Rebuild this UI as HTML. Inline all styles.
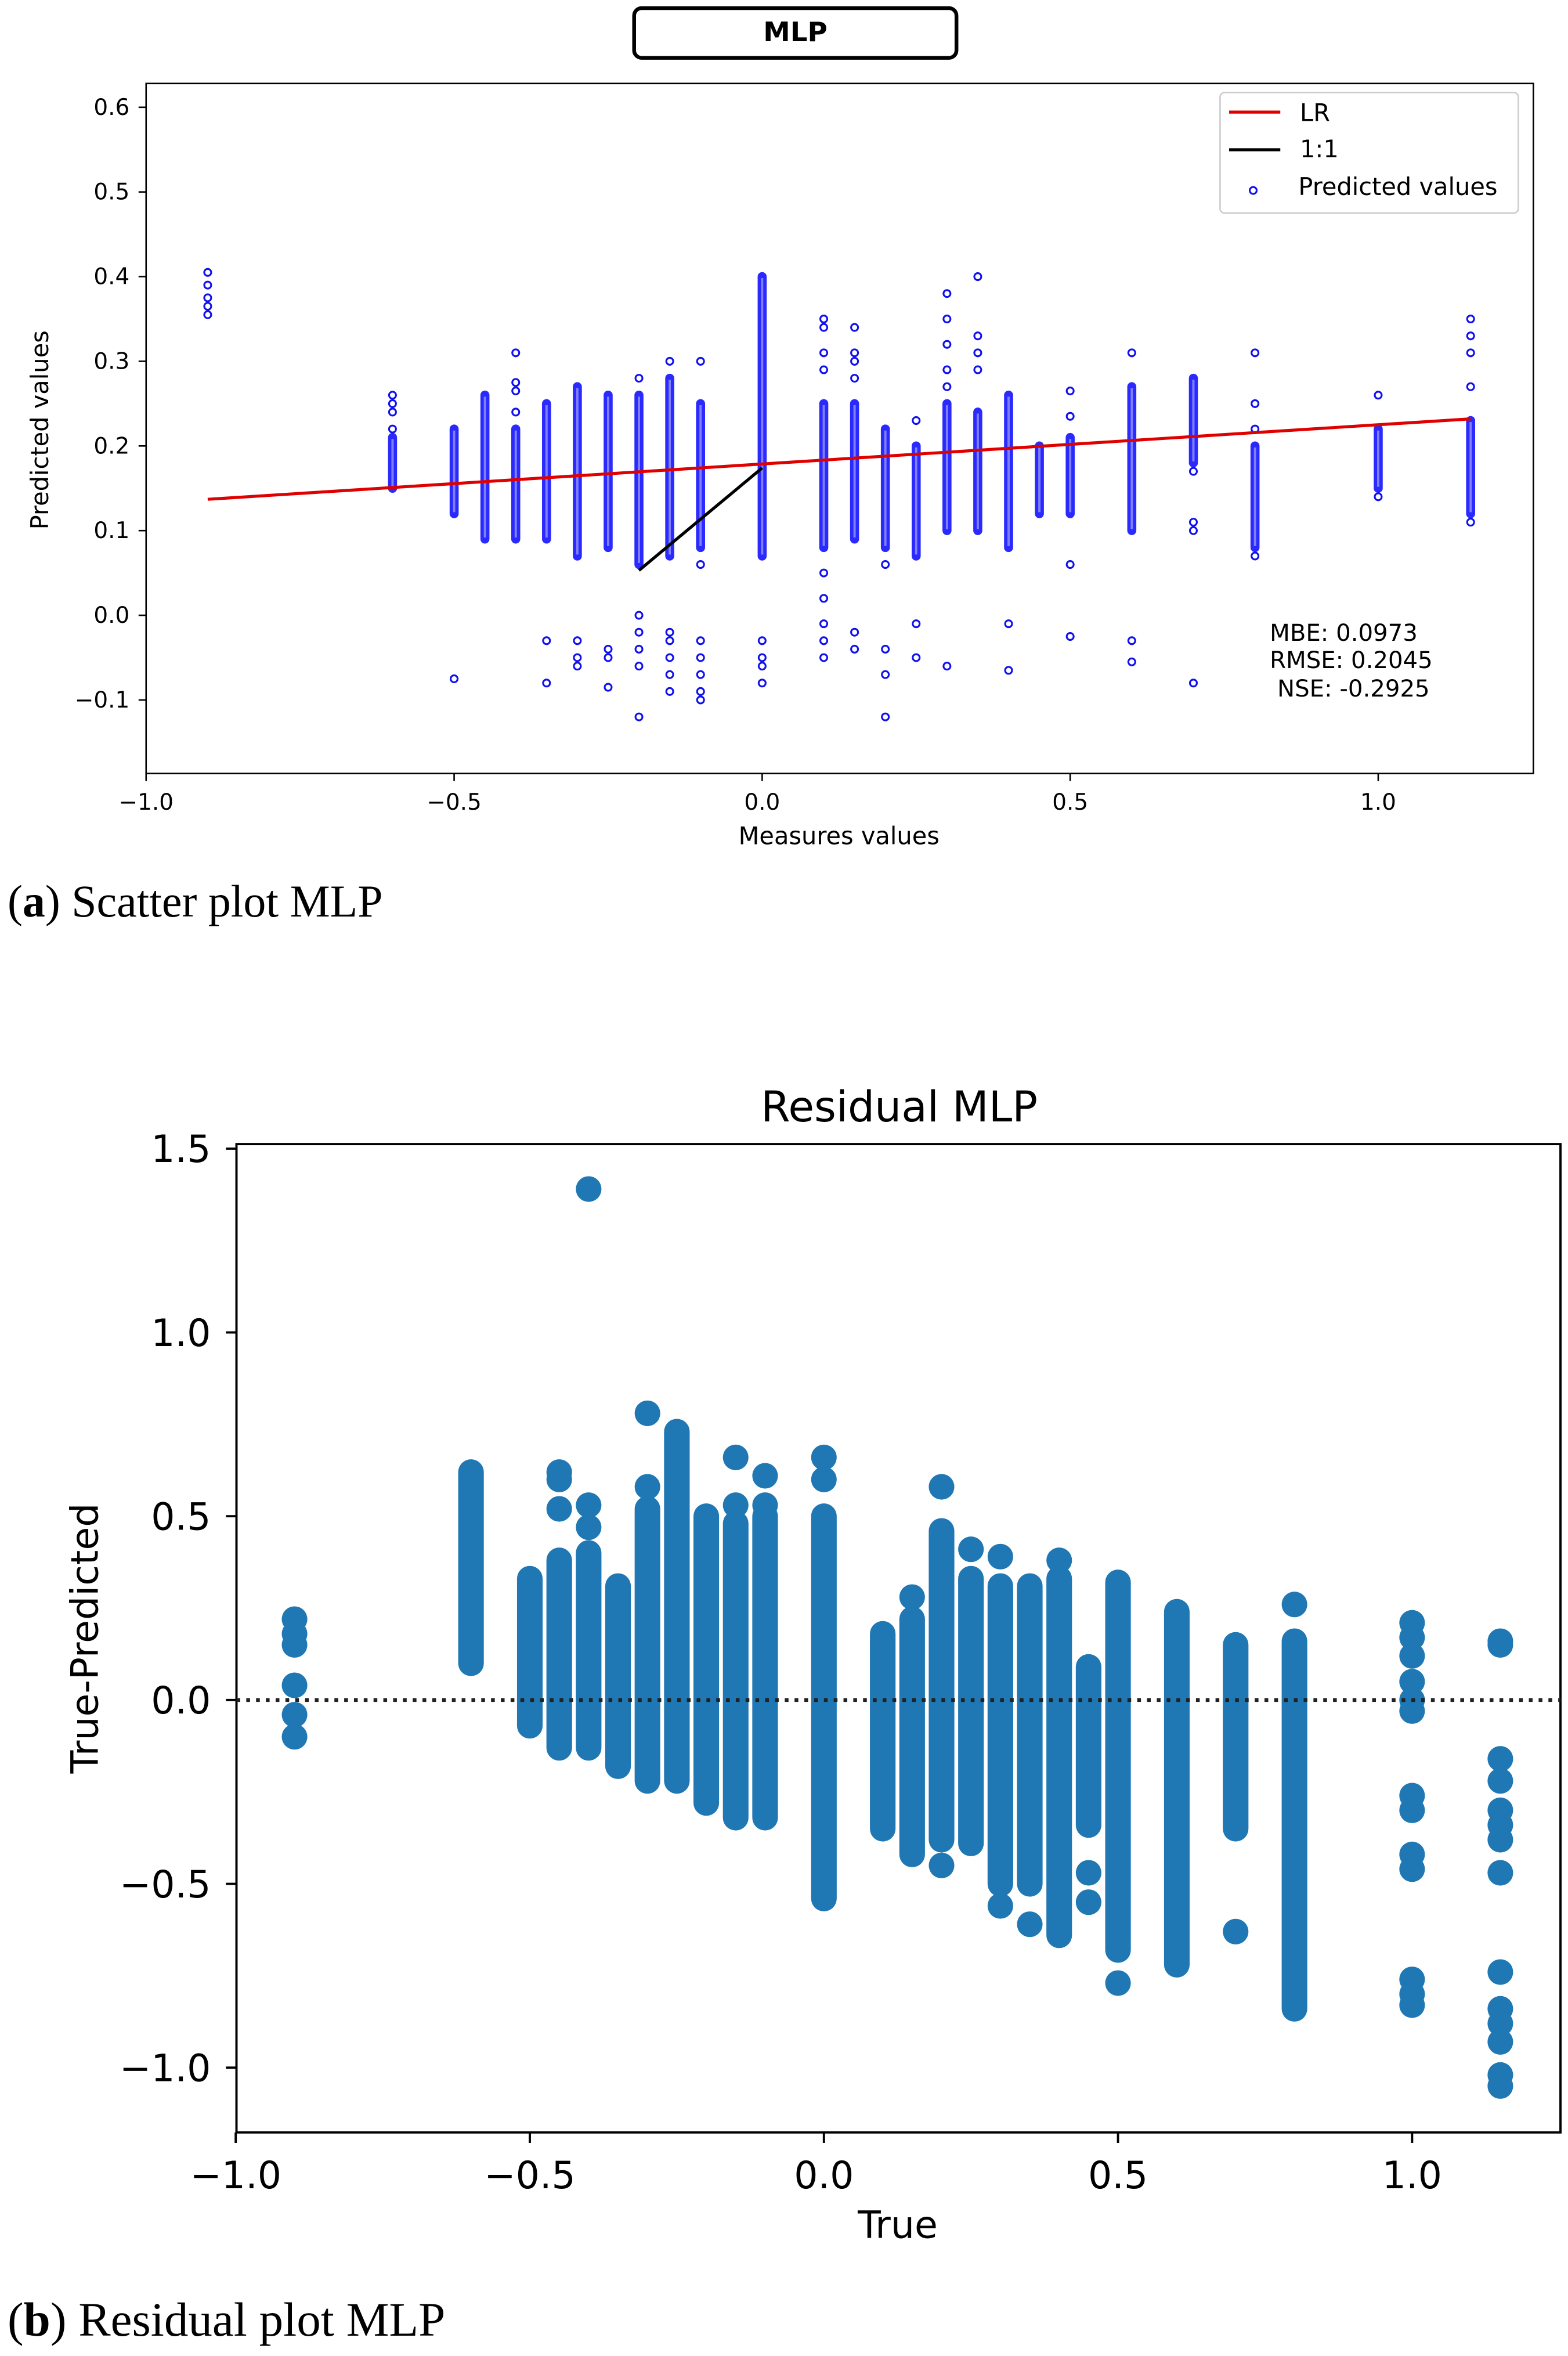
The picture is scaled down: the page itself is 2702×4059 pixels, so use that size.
<!DOCTYPE html>
<html><head><meta charset="utf-8"><style>
html,body{margin:0;padding:0;background:#fff;}
svg{display:block;}
text{font-family:"DejaVu Sans","Liberation Sans",sans-serif;}
.cap{font-family:"Liberation Serif",serif;}
</style></head><body>
<svg id="root" width="2702" height="4059" viewBox="0 0 1041 1563" xmlns="http://www.w3.org/2000/svg">
<rect width="1041" height="1563" fill="#fff"/>
<g id="top"></g>
<g id="bot"></g>
</svg>
<script>
// ---------- Scatter plot data ----------
const topCols = [-0.9,-0.6,-0.5,-0.45,-0.4,-0.35,-0.3,-0.25,-0.2,-0.15,-0.1,0.0,0.1,0.15,0.2,0.25,0.3,0.35,0.4,0.45,0.5,0.6,0.7,0.8,1.0,1.15];
const topLo = [null,0.15,0.12,0.09,0.09,0.09,0.07,0.08,0.06,0.07,0.08,0.07,0.08,0.09,0.08,0.07,0.10,0.10,0.08,0.12,0.12,0.10,0.18,0.08,0.15,0.12];
const topHi = [null,0.21,0.22,0.26,0.22,0.25,0.27,0.26,0.26,0.28,0.25,0.40,0.25,0.25,0.22,0.20,0.25,0.24,0.26,0.20,0.21,0.27,0.28,0.20,0.22,0.23];
const topPts = [
 [0.355,0.365,0.375,0.39,0.405],
 [0.22,0.24,0.25,0.26],
 [-0.075],
 [],
 [0.24,0.265,0.275,0.31],
 [-0.03,-0.08],
 [-0.03,-0.05,-0.06],
 [-0.04,-0.05,-0.085],
 [0.28,0.0,-0.02,-0.04,-0.06,-0.12],
 [0.30,-0.02,-0.03,-0.05,-0.07,-0.09],
 [0.30,0.06,-0.03,-0.05,-0.07,-0.09,-0.10],
 [-0.03,-0.05,-0.06,-0.08],
 [0.29,0.31,0.34,0.35,0.05,0.02,-0.01,-0.03,-0.05],
 [0.28,0.30,0.31,0.34,-0.02,-0.04],
 [0.06,-0.04,-0.07,-0.12],
 [0.23,-0.01,-0.05],
 [0.27,0.29,0.32,0.35,0.38,-0.06],
 [0.29,0.31,0.33,0.40],
 [-0.01,-0.065],
 [],
 [0.235,0.265,0.06,-0.025],
 [0.31,-0.03,-0.055],
 [0.17,0.11,0.10,-0.08],
 [0.22,0.25,0.31,0.07],
 [0.26,0.14],
 [0.27,0.31,0.33,0.35,0.11]
];
const lrLine = [[-0.9,0.137],[1.15,0.232]];
const oneLine = [[-0.2,0.053],[0.0,0.174]];
const topXTicks = [-1.0,-0.5,0.0,0.5,1.0];
const topXLabels = ["\u22121.0","\u22120.5","0.0","0.5","1.0"];
const topYTicks = [-0.1,0,0.1,0.2,0.3,0.4,0.5,0.6];
const topYLabels = ["\u22120.1","0.0","0.1","0.2","0.3","0.4","0.5","0.6"];

// ---------- Residual plot data ----------
const resCols = [-0.9,-0.6,-0.5,-0.45,-0.4,-0.35,-0.3,-0.25,-0.2,-0.15,-0.1,0.0,0.1,0.15,0.2,0.25,0.3,0.35,0.4,0.45,0.5,0.6,0.7,0.8,1.0,1.15];
const resLo = [null,0.10,-0.07,-0.13,-0.13,-0.18,-0.22,-0.22,-0.28,-0.32,-0.32,-0.54,-0.35,-0.42,-0.38,-0.39,-0.50,-0.50,-0.64,-0.34,-0.68,-0.72,-0.35,-0.84,null,null];
const resHi = [null,0.62,0.33,0.38,0.40,0.31,0.52,0.73,0.50,0.48,0.50,0.50,0.18,0.22,0.46,0.33,0.31,0.31,0.33,0.09,0.32,0.24,0.15,0.16,null,null];
const resPts = [
 [0.22,0.18,0.15,0.04,-0.04,-0.10],
 [],
 [],
 [0.52,0.60,0.62],
 [0.47,0.53,1.39],
 [],
 [0.58,0.78],
 [],
 [],
 [0.53,0.66],
 [0.53,0.61],
 [0.60,0.66],
 [],
 [0.28],
 [0.58,-0.45],
 [0.41],
 [0.39,-0.56],
 [-0.61],
 [0.38],
 [-0.47,-0.55],
 [-0.77],
 [],
 [-0.63],
 [0.26],
 [0.21,0.17,0.12,0.05,0.0,-0.03,-0.26,-0.30,-0.42,-0.46,-0.76,-0.80,-0.83],
 [0.16,0.15,-0.16,-0.22,-0.30,-0.34,-0.38,-0.47,-0.74,-0.84,-0.88,-0.93,-1.02,-1.05]
];
const resXTicks = [-1.0,-0.5,0.0,0.5,1.0];
const resXLabels = ["\u22121.0","\u22120.5","0.0","0.5","1.0"];
const resYTicks = [-1.0,-0.5,0.0,0.5,1.0,1.5];
const resYLabels = ["\u22121.0","\u22120.5","0.0","0.5","1.0","1.5"];

const NS="http://www.w3.org/2000/svg";
function mk(parent,tag,attrs,txt){const e=document.createElementNS(NS,tag);for(const k in attrs)e.setAttribute(k,attrs[k]);if(txt!==undefined)e.textContent=txt;parent.appendChild(e);return e;}

// ===== TOP =====
const T=document.getElementById('top');
const tx=v=>506+v*409, ty=v=>408-v*562;
let e;
e=mk(T,'rect',{x:421,y:5,width:214,height:33,rx:5,fill:'#fff',stroke:'#000','stroke-width':2.5});


e=mk(T,'text',{x:528,y:27,'text-anchor':'middle','font-size':18,'font-weight':'bold'},'MLP');


e=mk(T,'rect',{x:97,y:55,width:921,height:458,fill:'none',stroke:'#000','stroke-width':1});


topXTicks.forEach((v,i)=>{
 e=mk(T,'line',{x1:tx(v),x2:tx(v),y1:513,y2:518,stroke:'#000','stroke-width':1});
 
 
 e=mk(T,'text',{x:tx(v),y:537,'text-anchor':'middle','font-size':15},topXLabels[i]);
 
 
});
topYTicks.forEach((v,i)=>{
 e=mk(T,'line',{x1:92,x2:97,y1:ty(v),y2:ty(v),stroke:'#000','stroke-width':1});
 
 
 e=mk(T,'text',{x:86,y:ty(v)+5,'text-anchor':'end','font-size':15},topYLabels[i]);
 
 
});
e=mk(T,'text',{x:557,y:560,'text-anchor':'middle','font-size':16},'Measures values');


e=mk(T,'text',{x:0,y:0,'text-anchor':'middle','font-size':16,transform:'translate(32,285) rotate(-90)'},'Predicted values');


topCols.forEach((c,i)=>{
 if(topLo[i]!==null){
  e=mk(T,'line',{x1:tx(c),x2:tx(c),y1:ty(topLo[i]),y2:ty(topHi[i]),stroke:'#2a2aff','stroke-width':6,'stroke-linecap':'round'});
  
  
  e=mk(T,'line',{x1:tx(c),x2:tx(c),y1:ty(topLo[i])-1,y2:ty(topHi[i])+1,stroke:'#8080ff','stroke-width':1.5});
  
  
 }
 topPts[i].forEach(p=>{
  e=mk(T,'circle',{cx:tx(c),cy:ty(p),r:2.3,fill:'none',stroke:'#1010f0','stroke-width':1.2});
  
  
 });
});
e=mk(T,'line',{x1:tx(lrLine[0][0]),y1:ty(lrLine[0][1]),x2:tx(lrLine[1][0]),y2:ty(lrLine[1][1]),stroke:'#e00000','stroke-width':2});


e=mk(T,'line',{x1:tx(oneLine[0][0]),y1:ty(oneLine[0][1]),x2:tx(oneLine[1][0]),y2:ty(oneLine[1][1]),stroke:'#000','stroke-width':2});


// legend
const L=mk(T,'g',{});


mk(L,'rect',{x:810,y:61,width:198,height:80,rx:3,fill:'#fff',stroke:'#ccc','stroke-width':1});
e=mk(L,'line',{x1:816,x2:850,y1:74,y2:74,stroke:'#e00000','stroke-width':2});


e=mk(L,'text',{x:863,y:80,'font-size':16},'LR');


e=mk(L,'line',{x1:816,x2:850,y1:99,y2:99,stroke:'#000','stroke-width':2});


e=mk(L,'text',{x:863,y:104,'font-size':16},'1:1');


e=mk(L,'circle',{cx:832,cy:126,r:2.3,fill:'none',stroke:'#1010f0','stroke-width':1.2});


e=mk(L,'text',{x:862,y:129,'font-size':16},'Predicted values');


[['MBE: 0.0973',843,425],['RMSE: 0.2045',843,443],['NSE: -0.2925',848,462]].forEach(a=>{
 e=mk(T,'text',{x:a[1],y:a[2],'font-size':15.5},a[0]);
 
 
});
e=mk(T,'text',{x:5,y:608,'font-size':30,class:'cap'});


e.innerHTML='(<tspan font-weight="bold">a</tspan>) Scatter plot MLP';

// ===== BOTTOM =====
const B=document.getElementById('bot');
const bx=v=>547+v*390.5, by=v=>1128-v*244;
e=mk(B,'text',{x:597,y:744,'text-anchor':'middle','font-size':28},'Residual MLP');


e=mk(B,'rect',{x:157,y:759,width:879,height:656,fill:'none',stroke:'#000','stroke-width':1.5});


resXTicks.forEach((v,i)=>{
 e=mk(B,'line',{x1:bx(v),x2:bx(v),y1:1415,y2:1422,stroke:'#000','stroke-width':1.5});
 
 
 e=mk(B,'text',{x:bx(v),y:1452,'text-anchor':'middle','font-size':25},resXLabels[i]);
 
 
});
resYTicks.forEach((v,i)=>{
 e=mk(B,'line',{x1:150,x2:157,y1:by(v),y2:by(v),stroke:'#000','stroke-width':1.5});
 
 
 e=mk(B,'text',{x:140,y:by(v)+9,'text-anchor':'end','font-size':25},resYLabels[i]);
 
 
});
e=mk(B,'text',{x:596,y:1485,'text-anchor':'middle','font-size':25},'True');


e=mk(B,'text',{x:0,y:0,'text-anchor':'middle','font-size':25,transform:'translate(65,1087) rotate(-90)'},'True-Predicted');


const blue='#1f77b4';
resCols.forEach((c,i)=>{
 if(resLo[i]!==null){
  e=mk(B,'line',{x1:bx(c),x2:bx(c),y1:by(resLo[i]),y2:by(resHi[i]),stroke:blue,'stroke-width':17,'stroke-linecap':'round'});
  
  
 }
 resPts[i].forEach(p=>{
  e=mk(B,'circle',{cx:bx(c),cy:by(p),r:8.5,fill:blue});
  
  
 });
});
e=mk(B,'line',{x1:157,x2:1036,y1:by(0),y2:by(0),stroke:'#222','stroke-width':2.5,'stroke-dasharray':'2.5 4'});


e=mk(B,'text',{x:5,y:1550,'font-size':32,class:'cap'});


e.innerHTML='(<tspan font-weight="bold">b</tspan>) Residual plot MLP';
</script>
</body></html>
